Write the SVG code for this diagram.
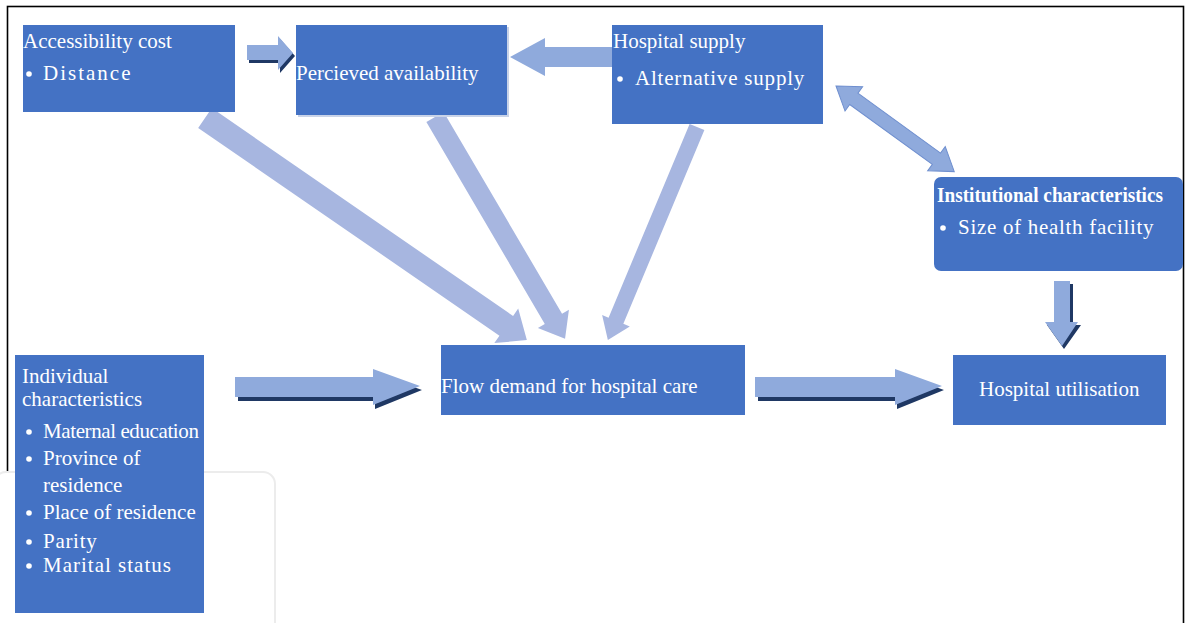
<svg xmlns="http://www.w3.org/2000/svg" width="1187" height="623" viewBox="0 0 1187 623">
<style>
.box{fill:#4472C4}
.t{font-family:"Liberation Serif","Times New Roman","DejaVu Serif",serif;fill:#FFFFFF;font-size:21px}
.b{font-weight:bold}
.arr{fill:#8FAADC}
.sh{fill:#1F3864}
.diag{fill:#A7B6E0}
</style>
<rect x="0" y="0" width="1187" height="623" fill="#FFFFFF"/>
<rect x="7.5" y="6.5" width="1176" height="620" fill="none" stroke="#000000" stroke-width="1.6"/>
<rect x="-6" y="472" width="281" height="170" rx="12" fill="#FFFFFF" stroke="#ECECEC" stroke-width="2"/>

<g id="connectors">
  <g transform="translate(205,118) rotate(34.6)">
    <polygon class="diag" points="0,-12 366,-12 366,-21 391,0 366,21 366,12 0,12"/>
  </g>
  <g transform="translate(435,117) rotate(59.6)">
    <polygon class="diag" points="0,-10 234,-10 234,-18 257,0 234,18 234,10 0,10"/>
  </g>
  <g transform="translate(697,127) rotate(112.7)">
    <polygon class="diag" points="0,-8 210,-8 210,-15 231,0 210,15 210,8 0,8"/>
  </g>
  <polygon class="sh" points="249,48 280,48 280,39 295,56 280,73 280,63 249,63"/>
  <polygon class="arr" points="247,45 278,45 278,36 293,53 278,70 278,60 247,60"/>
  <polygon class="arr" points="612,47 545,47 545,38 510,57 545,76 545,67 612,67"/>
  <g transform="translate(836,86) rotate(35.9)">
    <polygon class="arr" stroke="#6F8FCF" stroke-width="1" points="0,0 22,-15 22,-7 124,-7 124,-15 146,0 124,15 124,7 22,7 22,15"/>
  </g>
  <polygon class="sh" points="238,381 375,381 375,373 422,390 375,409 375,401 238,401"/>
  <polygon class="arr" points="235,377 373,377 373,369 420,386 373,405 373,397 235,397"/>
  <polygon class="sh" points="758,381 897,381 897,373 944,390 897,409 897,401 758,401"/>
  <polygon class="arr" points="755,377 895,377 895,369 942,386 895,405 895,397 755,397"/>
  <polygon class="sh" points="1057,284 1073,284 1073,325 1081,325 1064,349 1047,325 1057,325"/>
  <polygon class="arr" points="1054,281 1070,281 1070,322 1078,322 1062,346 1045,322 1054,322"/>
</g>

<g id="accessibility">
  <rect class="box" x="23" y="25" width="212" height="87"/>
  <text class="t" x="23" y="48">Accessibility cost</text>
  <circle cx="29" cy="74" r="2.8" fill="#FFFFFF"/>
  <text class="t" x="43" y="80" letter-spacing="2">Distance</text>
</g>
<g id="perceived">
  <rect x="298" y="27" width="211" height="90" fill="#C9D3E8"/>
  <rect class="box" x="296" y="25" width="211" height="90"/>
  <text class="t" x="296" y="80">Percieved availability</text>
</g>
<g id="hospital-supply">
  <rect class="box" x="612" y="25" width="211" height="99"/>
  <text class="t" x="613" y="48">Hospital supply</text>
  <circle cx="620" cy="79" r="2.8" fill="#FFFFFF"/>
  <text class="t" x="635" y="85" letter-spacing="0.8">Alternative supply</text>
</g>
<g id="institutional">
  <rect class="box" x="934" y="177" width="249" height="94" rx="7"/>
  <text class="t b" x="937" y="202" font-size="20" textLength="226" lengthAdjust="spacingAndGlyphs">Institutional characteristics</text>
  <circle cx="943" cy="228" r="2.8" fill="#FFFFFF"/>
  <text class="t" x="958" y="234" letter-spacing="0.7">Size of health facility</text>
</g>
<g id="individual">
  <rect class="box" x="15" y="355" width="189" height="258"/>
  <text class="t" x="22" y="383">Individual</text>
  <text class="t" x="22" y="406">characteristics</text>
  <circle cx="29" cy="432" r="2.8" fill="#FFFFFF"/>
  <text class="t" x="43" y="438" letter-spacing="-0.4">Maternal education</text>
  <circle cx="29" cy="459" r="2.8" fill="#FFFFFF"/>
  <text class="t" x="43" y="465">Province of</text>
  <text class="t" x="43" y="492">residence</text>
  <circle cx="29" cy="513" r="2.8" fill="#FFFFFF"/>
  <text class="t" x="43" y="519">Place of residence</text>
  <circle cx="29" cy="542" r="2.8" fill="#FFFFFF"/>
  <text class="t" x="43" y="548" letter-spacing="0.7">Parity</text>
  <circle cx="29" cy="566" r="2.8" fill="#FFFFFF"/>
  <text class="t" x="43" y="572" letter-spacing="1">Marital status</text>
</g>
<g id="flow-demand">
  <rect class="box" x="441" y="345" width="304" height="70"/>
  <text class="t" x="441" y="393">Flow demand for hospital care</text>
</g>
<g id="hospital-utilisation">
  <rect class="box" x="953" y="355" width="213" height="70"/>
  <text class="t" x="979" y="396">Hospital utilisation</text>
</g>
</svg>
